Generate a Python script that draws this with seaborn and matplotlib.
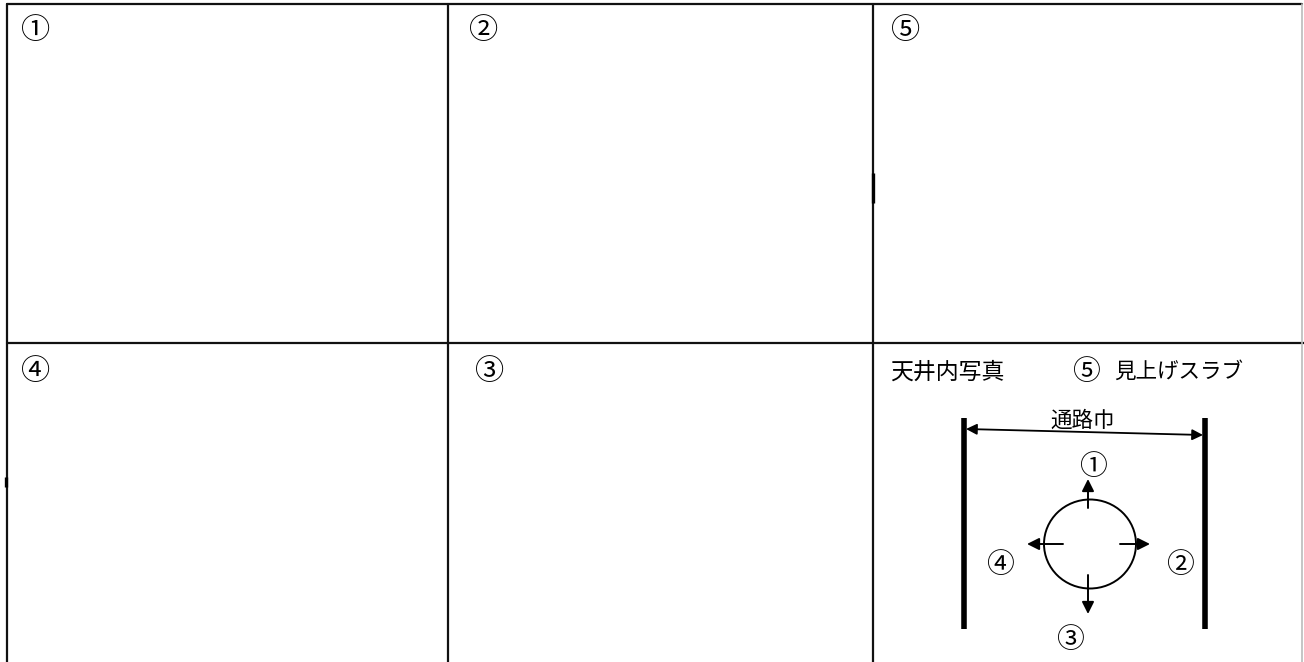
import matplotlib
matplotlib.use("Agg")
import matplotlib.pyplot as plt
import seaborn as sns
import pandas as pd
from matplotlib.patches import Ellipse

# cell labels of the photo sheet
cell_labels = ["①", "②", "⑤", "④", "③"]
cell_x = [21, 469, 891, 21, 475]
cell_y = [31, 31, 31, 372, 372]

# grid lines (pixel coords)
grid_lines = pd.DataFrame({
    "x": [7, 1302, 7, 7, 448, 448, 873, 873, 7, 1304],
    "y": [4, 4, 4, 662, 4, 662, 4, 662, 343, 343],
    "line": ["top", "top", "left", "left", "c1", "c1", "c2", "c2", "row", "row"],
})

# diagram texts
title_left = "天井内写真"
title_num = "⑤"
title_right = "見上げスラブ"
width_label = "通路巾"
dir_labels = ["①", "②", "③", "④"]
dir_x = [1093, 1180, 1070, 1000]
dir_y = [467, 565, 640, 565]

NUM_SIZE = 21


def plot():
    sns.set_theme(style="white")
    plt.rcParams["font.family"] = ["Noto Sans CJK JP", "DejaVu Sans"]

    fig = plt.figure(figsize=(13.04, 6.62), dpi=100)
    ax = fig.add_axes([0, 0, 1, 1])
    ax.set_xlim(0, 1304)
    ax.set_ylim(662, 0)
    ax.axis("off")

    sns.lineplot(data=grid_lines, x="x", y="y", units="line", estimator=None,
                 sort=False, color="#111111", linewidth=1.6, ax=ax)
    # faint right border
    ax.plot([1302, 1302], [4, 662], color="#bbbbbb", linewidth=1.2)
    # small thick artifacts on grid lines
    ax.plot([873, 873], [173, 203], color="black", linewidth=2.4, solid_capstyle="butt")
    ax.plot([6, 6], [477, 487], color="black", linewidth=2.4, solid_capstyle="butt")

    for lab, x, y in zip(cell_labels, cell_x, cell_y):
        ax.text(x, y, lab, fontsize=NUM_SIZE, ha="left", va="center", color="black")

    ax.text(890, 372, title_left, fontsize=16.5, ha="left", va="center", color="black")
    ax.text(1072, 372, title_num, fontsize=NUM_SIZE - 1, ha="left", va="center", color="black")
    ax.text(1114, 372, title_right, fontsize=15.5, ha="left", va="center", color="black")

    # aisle walls
    ax.plot([964, 964], [418, 629], color="black", linewidth=4, solid_capstyle="butt")
    ax.plot([1205, 1205], [418, 629], color="black", linewidth=4, solid_capstyle="butt")

    # aisle width arrow
    ax.annotate("", xy=(966, 429), xytext=(1203, 435),
                arrowprops=dict(arrowstyle="<|-|>", color="black", lw=1.3,
                                mutation_scale=16, shrinkA=0, shrinkB=0))
    ax.text(1083, 421, width_label, fontsize=15.5, ha="center", va="center", color="black")

    # column (circle) with four direction arrows
    ax.add_patch(Ellipse((1090, 544), 92, 89, fill=False, edgecolor="black", lw=1.4))
    arrows = [((1088, 508), (1088, 479)), ((1120, 544), (1150, 544)),
              ((1088, 575), (1088, 614)), ((1063, 544), (1027, 544))]
    for start, end in arrows:
        ax.annotate("", xy=end, xytext=start,
                    arrowprops=dict(arrowstyle="-|>", color="black", lw=1.4,
                                    mutation_scale=18, shrinkA=0, shrinkB=0))

    for lab, x, y in zip(dir_labels, dir_x, dir_y):
        ax.text(x, y, lab, fontsize=NUM_SIZE - 1, ha="center", va="center", color="black")

    fig.savefig("out.png", dpi=100, facecolor="white")


if __name__ == "__main__":
    plot()
